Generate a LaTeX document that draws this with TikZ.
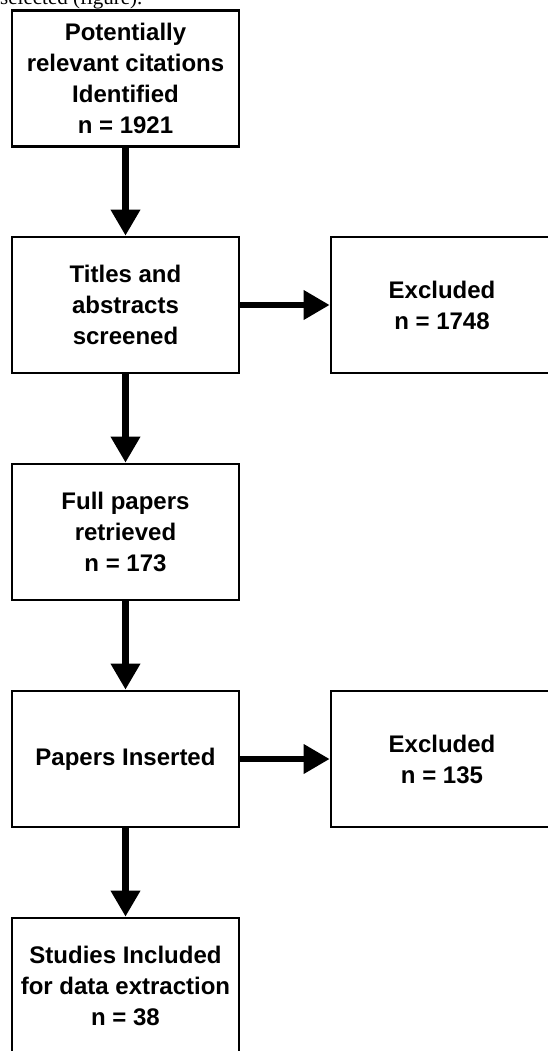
\documentclass[tikz,border=0pt]{standalone}
\usepackage{fontspec}
\setmainfont{Liberation Sans}
\newfontfamily\capfont{Liberation Serif}
\usetikzlibrary{arrows.meta}

\begin{document}
\begin{tikzpicture}[x=1pt,y=-1pt,
  stage/.style={draw,line width=2.6pt,minimum width=227pt,minimum height=136pt,inner sep=0pt,align=center,font=\bfseries\fontsize{24}{31}\selectfont},
  excl/.style={stage,minimum width=222pt},
  flow/.style={line width=6.5pt,-{Triangle[length=26pt,width=28pt]}}]
\useasboundingbox (0,0) rectangle (547,1051);
\node[anchor=base west,inner sep=0pt,font=\capfont\fontsize{21}{24}\selectfont] (cap) at (0,4.5) {selected (figure).};
\node[stage] (cites) at (125.5,78.5) {Potentially\\relevant citations\\Identified\\n = 1921};
\node[stage] (screen) at (125.5,305) {Titles and\\abstracts\\screened};
\node[excl] (excla) at (442,305) {Excluded\\n = 1748};
\node[stage] (full) at (125.5,532) {Full papers\\retrieved\\n = 173};
\node[stage] (insert) at (125.5,759) {Papers Inserted};
\node[excl] (exclb) at (442,759) {Excluded\\n = 135};
\node[stage] (incl) at (125.5,986) {Studies Included\\for data extraction\\n = 38};
\draw[flow] (cites) -- (screen);
\draw[flow] (screen) -- (excla);
\draw[flow] (screen) -- (full);
\draw[flow] (full) -- (insert);
\draw[flow] (insert) -- (exclb);
\draw[flow] (insert) -- (incl);
\end{tikzpicture}
\end{document}
